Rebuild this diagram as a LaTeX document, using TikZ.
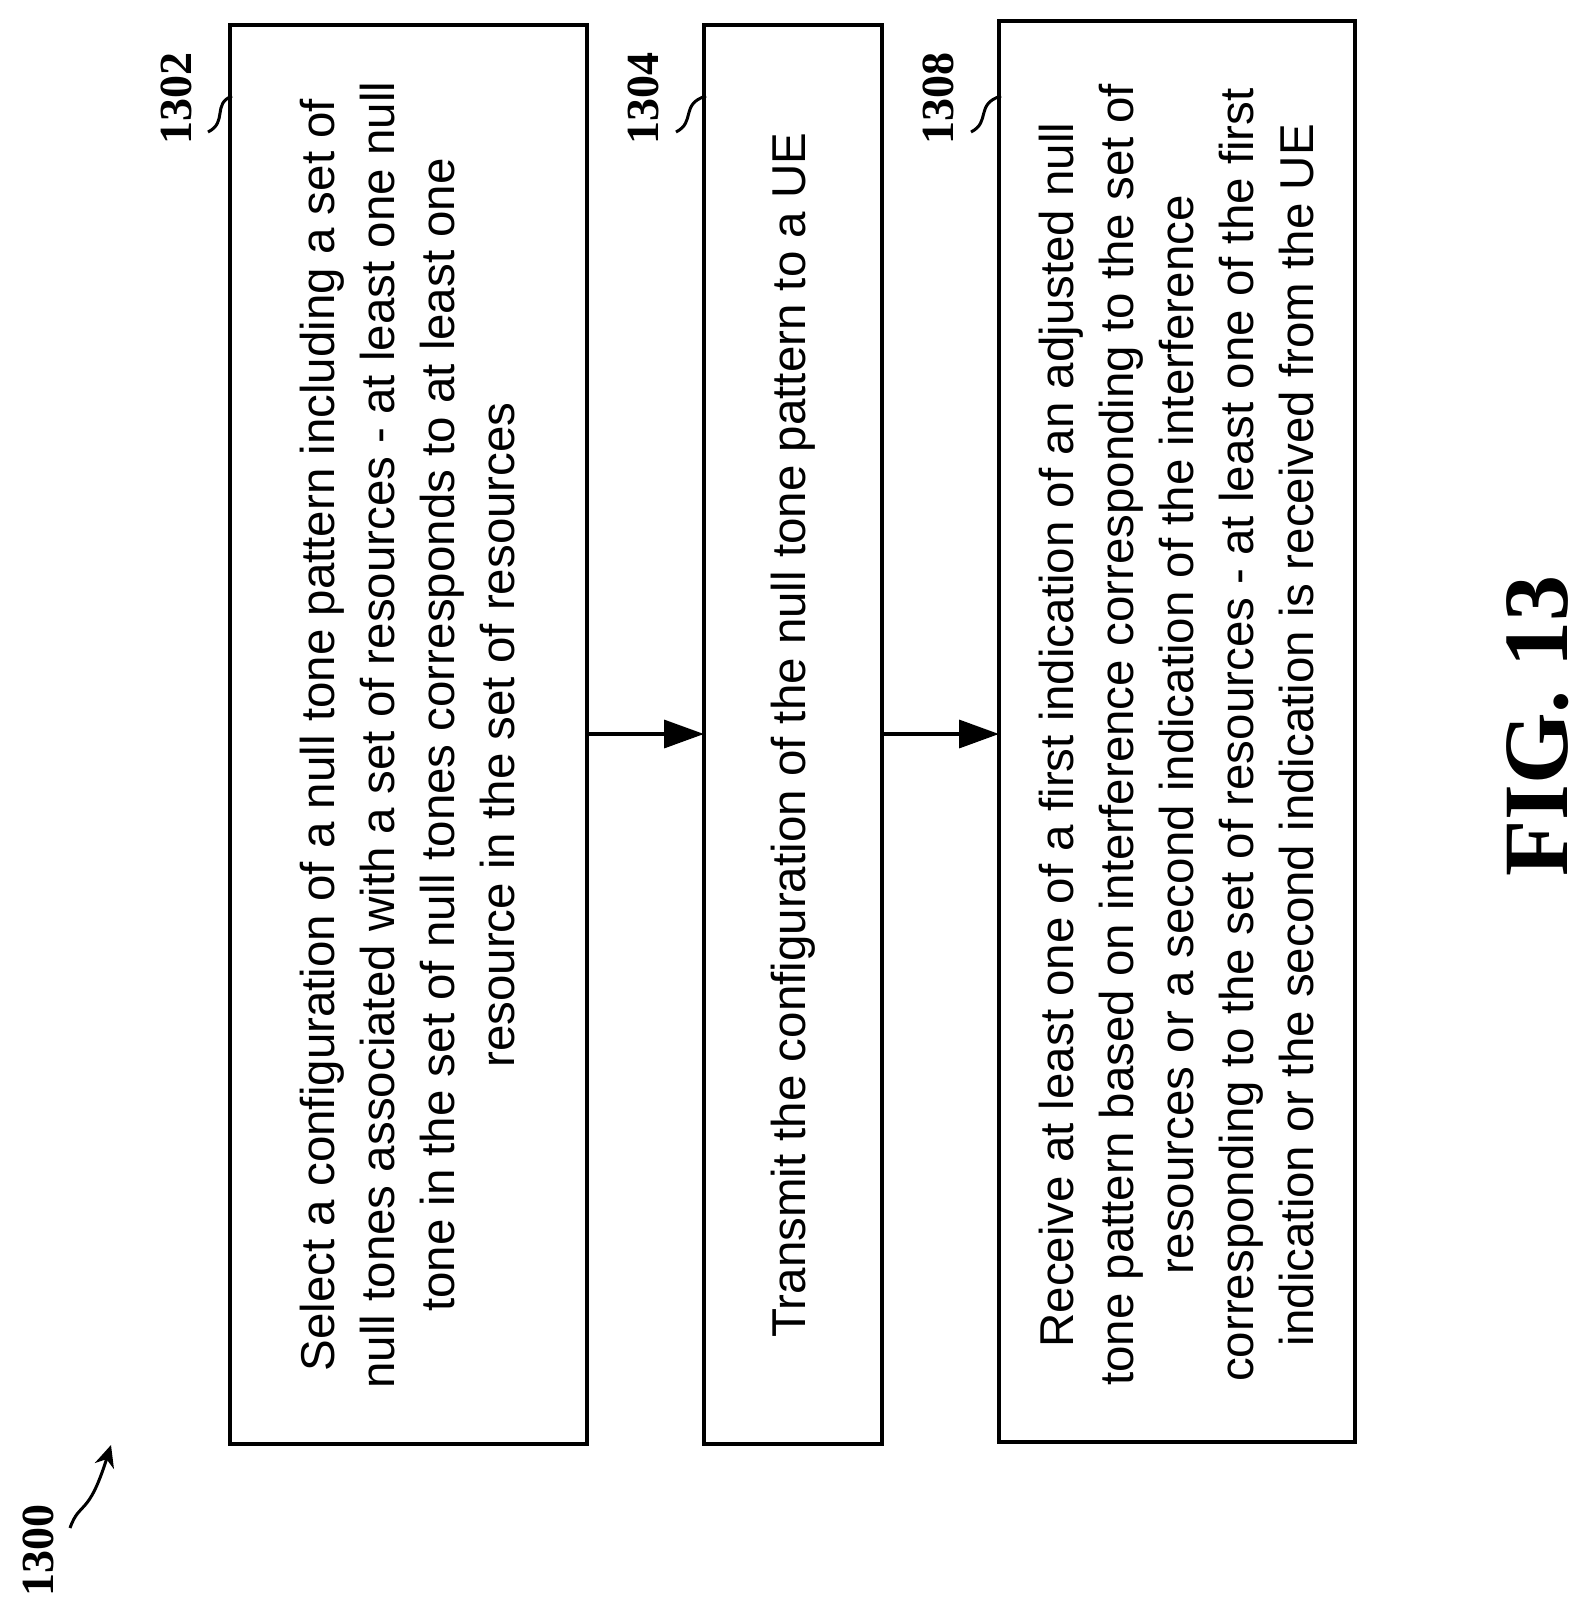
\documentclass[tikz,border=0pt]{standalone}
\usepackage{fontspec}
\setmainfont{Liberation Sans}
\newfontfamily\serifb{Liberation Serif}
\usetikzlibrary{arrows.meta}
\begin{document}
\begin{tikzpicture}[x=1pt,y=-1pt,
 box/.style={draw,line width=3.5pt},
 txt/.style={rotate=90,align=center,font=\fontsize{47.5}{60}\selectfont,inner sep=0},
 lab/.style={rotate=90,font=\serifb\bfseries\fontsize{46}{50}\selectfont},
 arr/.style={line width=3.5pt,-{Triangle[length=40pt,width=28pt]}}]
\useasboundingbox (0,0) rectangle (1589,1623);
\draw[box] (230,25) rectangle (587,1444);
\draw[box] (704,25) rectangle (882,1444);
\draw[box] (999,21) rectangle (1355,1442);
\node[txt] (t1) at (408,735) {Select a configuration of a null tone pattern including a set of\\ null tones associated with a set of resources - at least one null\\ tone in the set of null tones corresponds to at least one\\ resource in the set of resources};
\node[txt] (t2) at (793,735) {Transmit the configuration of the null tone pattern to a UE};
\node[txt] (t3) at (1177,735) {Receive at least one of a first indication of an adjusted null\\ tone pattern based on interference corresponding to the set of\\ resources or a second indication of the interference\\ corresponding to the set of resources - at least one of the first\\ indication or the second indication is received from the UE};
\coordinate (a1) at (587,734); \coordinate (b1) at (704,734);
\coordinate (a2) at (882,734); \coordinate (b2) at (999,734);
\draw[arr] (a1) -- (b1);
\draw[arr] (a2) -- (b2);
\node[lab] (l1) at (176,98) {1302};
\node[lab] (l2) at (643,98) {1304};
\node[lab] (l3) at (938,98) {1308};
\node[lab] (l0) at (38,1550) {1300};
\draw[line width=3pt] (208,132) .. controls (228,122) and (212,104) .. (232,96);
\draw[line width=3pt] (676,132) .. controls (696,122) and (680,104) .. (706,96);
\draw[line width=3pt] (971,132) .. controls (991,122) and (975,104) .. (1001,96);
\draw[line width=3pt,-{Stealth[length=22pt,width=20pt]}] (70,1528) .. controls (80,1500) and (88,1518) .. (111,1445);
\node[rotate=90,font=\serifb\bfseries\fontsize{92}{100}\selectfont] (fig) at (1538,726) {FIG. 13};
\end{tikzpicture}
\end{document}
